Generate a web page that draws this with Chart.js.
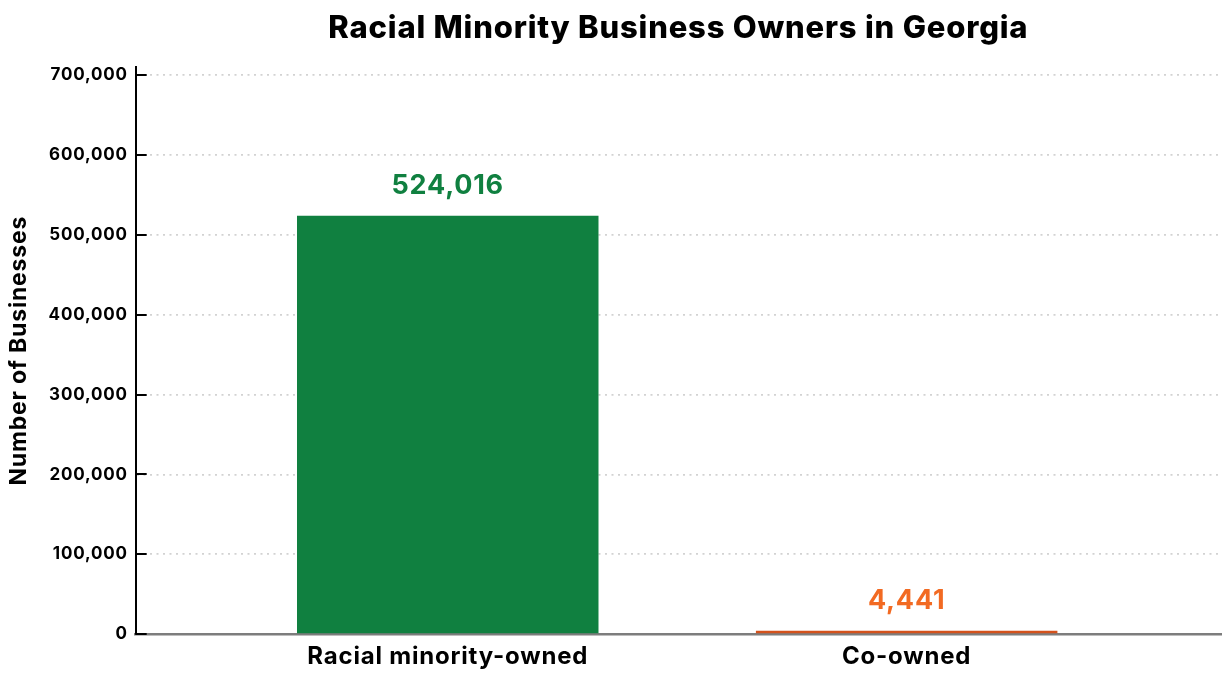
<!DOCTYPE html>
<html>
<head>
<meta charset="utf-8">
<script src="https://cdn.jsdelivr.net/npm/chart.js@4"></script>
<style>
  html, body { margin: 0; padding: 0; background: #ffffff; }
  #wrap { width: 1230px; height: 680px; }
</style>
</head>
<body>
<div id="wrap"><canvas id="c" width="1230" height="680"></canvas></div>
<script>
const categories = ['Racial minority-owned', 'Co-owned'];
const values = [524016, 4441];
const barColors = ['#108040', '#d4521c'];
const labelColors = ['#108040', '#f26a22'];
const yTickValues = [0, 100000, 200000, 300000, 400000, 500000, 600000, 700000];
const chartTitle = 'Racial Minority Business Owners in Georgia';
const yTitle = 'Number of Businesses';

const FONT = 'Inter, "Open Sans", sans-serif';

const spacing = {
  id: 'spacing',
  beforeUpdate(chart) { chart.ctx.letterSpacing = '0.8px'; },
  beforeDraw(chart) { chart.ctx.letterSpacing = '0.8px'; }
};

const valueLabels = {
  id: 'valueLabels',
  afterDatasetsDraw(chart) {
    const ctx = chart.ctx;
    const meta = chart.getDatasetMeta(0);
    ctx.save();
    ctx.font = '700 27px ' + FONT;
    ctx.textAlign = 'center';
    ctx.textBaseline = 'middle';
    meta.data.forEach((bar, i) => {
      ctx.fillStyle = labelColors[i];
      ctx.fillText(values[i].toLocaleString('en-US'), bar.x, bar.y - 30);
    });
    ctx.restore();
  }
};

const innerTicks = {
  id: 'innerTicks',
  afterDraw(chart) {
    const ctx = chart.ctx;
    const y = chart.scales.y;
    const left = chart.chartArea.left;
    ctx.save();
    ctx.strokeStyle = '#000000';
    ctx.lineWidth = 2;
    yTickValues.forEach(v => {
      const py = Math.round(y.getPixelForValue(v));
      ctx.beginPath();
      ctx.moveTo(left, py);
      ctx.lineTo(left + 11, py);
      ctx.stroke();
    });
    ctx.restore();
  }
};

new Chart(document.getElementById('c'), {
  type: 'bar',
  data: {
    datasets: [{
      data: values.map((v, i) => ({ x: i, y: v })),
      backgroundColor: barColors,
      borderWidth: 0,
      categoryPercentage: 1,
      barPercentage: 0.657
    }]
  },
  options: {
    responsive: false,
    animation: false,
    devicePixelRatio: 1,
    layout: { padding: { top: 0, right: 9, bottom: 1, left: 5 } },
    plugins: {
      legend: { display: false },
      tooltip: { enabled: false },
      title: {
        display: true,
        fullSize: false,
        text: chartTitle,
        color: '#000000',
        font: { family: FONT, size: 31, weight: '800' },
        padding: { top: 10, bottom: 20 }
      }
    },
    scales: {
      x: {
        type: 'linear',
        offset: false,
        min: -0.68,
        max: 1.685,
        afterBuildTicks(scale) { scale.ticks = categories.map((c, i) => ({ value: i })); },
        ticks: {
          callback: (v) => categories[v],
          color: '#000000',
          font: { family: FONT, size: 24, weight: '700' },
          padding: 8,
          maxRotation: 0,
          autoSkip: false
        },
        grid: { display: false, drawTicks: false },
        border: { display: true, color: '#7d7d7d', width: 2.5 }
      },
      y: {
        min: 0,
        max: 710000,
        afterBuildTicks(scale) { scale.ticks = yTickValues.map(v => ({ value: v })); },
        ticks: {
          callback: (v) => v.toLocaleString('en-US'),
          color: '#000000',
          font: { family: FONT, size: 17, weight: '700' },
          padding: 8
        },
        grid: {
          drawTicks: false,
          color: '#d2d2d2',
          lineWidth: 1.8
        },
        border: { display: true, color: '#000000', width: 2, dash: [2, 4.5] },
        title: {
          display: true,
          text: yTitle,
          color: '#000000',
          font: { family: FONT, size: 23, weight: '700' },
          padding: { top: 0, bottom: 8 }
        }
      }
    }
  },
  plugins: [spacing, valueLabels, innerTicks]
});
</script>
</body>
</html>
